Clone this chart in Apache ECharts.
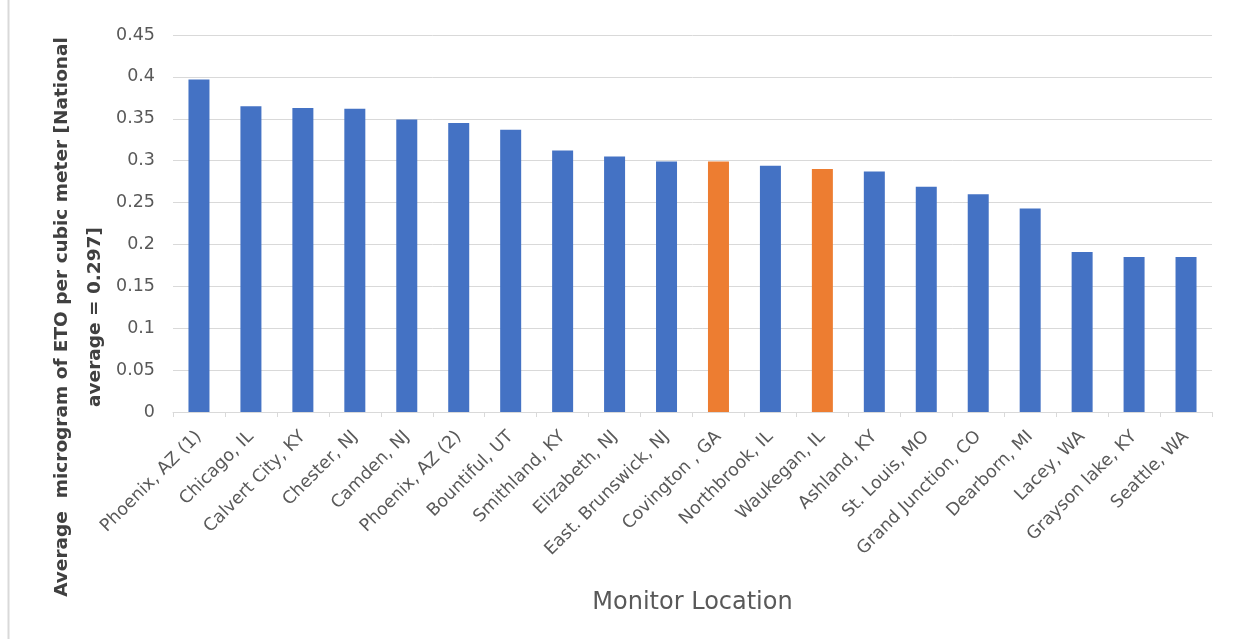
<!DOCTYPE html>
<html>
<head>
<meta charset="utf-8">
<script src="https://cdn.jsdelivr.net/npm/echarts@6/dist/echarts.min.js"></script>
<style>
  html, body { margin: 0; padding: 0; background: #fff; }
  #chart { width: 1246px; height: 639px; }
</style>
</head>
<body>
<div id="chart"></div>
<script>
const locations = [
  'Phoenix, AZ (1)', 'Chicago, IL', 'Calvert City, KY', 'Chester, NJ', 'Camden, NJ',
  'Phoenix, AZ (2)', 'Bountiful, UT', 'Smithland, KY', 'Elizabeth, NJ', 'East. Brunswick, NJ',
  'Covington , GA', 'Northbrook, IL', 'Waukegan, IL', 'Ashland, KY', 'St. Louis, MO',
  'Grand Junction, CO', 'Dearborn, MI', 'Lacey, WA', 'Grayson lake, KY', 'Seattle, WA'
]
const etoValues = [
  0.397, 0.365, 0.363, 0.362, 0.349,
  0.345, 0.337, 0.312, 0.305, 0.299,
  0.299, 0.294, 0.290, 0.287, 0.269,
  0.260, 0.243, 0.191, 0.185, 0.185
]
// monitors highlighted in orange
const highlighted = ['Covington , GA', 'Waukegan, IL']

const blue = '#4472C4'
const orange = '#ED7D31'
const font = '"DejaVu Sans"'

const chart = echarts.init(document.getElementById('chart'))
chart.setOption({
  animation: false,
  textStyle: { fontFamily: font },
  grid: { left: 173, right: 34, top: 35, bottom: 227 },
  graphic: [
    {
      type: 'line',
      shape: { x1: 8.5, y1: 0, x2: 8.5, y2: 639 },
      style: { stroke: '#d9d9d9', lineWidth: 2 }
    },
    {
      type: 'text',
      x: 79,
      y: 317,
      rotation: Math.PI / 2,
      style: {
        text: 'Average  microgram of ETO per cubic meter [National\naverage = 0.297]',
        font: 'bold 18.5px ' + font,
        fill: '#404040',
        align: 'center',
        verticalAlign: 'middle',
        lineHeight: 33
      }
    }
  ],
  xAxis: {
    type: 'category',
    data: locations,
    name: 'Monitor Location',
    nameLocation: 'middle',
    nameGap: 179,
    nameTextStyle: { fontSize: 24, color: '#595959' },
    axisLine: { lineStyle: { color: '#d9d9d9' } },
    axisTick: { show: true, alignWithLabel: false, lineStyle: { color: '#d9d9d9' } },
    axisLabel: { rotate: 45, interval: 0, fontSize: 17.5, color: '#595959', margin: 22 }
  },
  yAxis: {
    type: 'value',
    min: 0,
    max: 0.45,
    interval: 0.05,
    axisLine: { show: false },
    axisTick: { show: false },
    axisLabel: {
      fontSize: 17.5,
      color: '#595959',
      margin: 18,
      formatter: v => String(Math.round(v * 100) / 100)
    },
    splitLine: { lineStyle: { color: '#d9d9d9' } }
  },
  series: [
    {
      type: 'bar',
      barWidth: 21,
      data: etoValues.map((v, i) => ({
        value: v,
        itemStyle: { color: highlighted.includes(locations[i]) ? orange : blue }
      }))
    }
  ]
})
</script>
</body>
</html>
